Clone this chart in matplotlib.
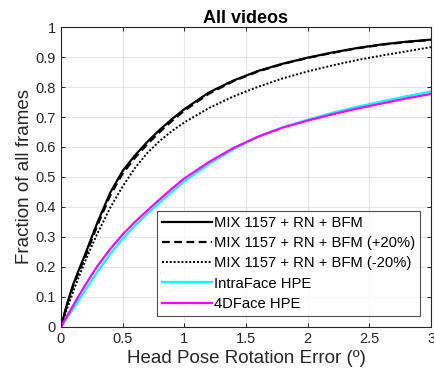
import matplotlib
matplotlib.use("Agg")
import matplotlib.pyplot as plt

plt.rcParams["font.family"] = ["Liberation Sans", "DejaVu Sans"]

# error thresholds (degrees)
err = [0, 0.05, 0.1, 0.15, 0.2, 0.25, 0.3, 0.4, 0.5, 0.6, 0.7, 0.8, 0.9, 1.0,
       1.2, 1.4, 1.6, 1.8, 2.0, 2.2, 2.4, 2.6, 2.8, 3.0]

mix = [0, 0.077, 0.142, 0.195, 0.245, 0.3, 0.352, 0.448, 0.52, 0.572, 0.617,
       0.657, 0.693, 0.726, 0.782, 0.822, 0.854, 0.878, 0.898, 0.915, 0.93,
       0.942, 0.951, 0.958]
mix_plus = [0, 0.074, 0.137, 0.188, 0.237, 0.291, 0.343, 0.439, 0.511, 0.564,
            0.609, 0.65, 0.687, 0.721, 0.778, 0.82, 0.852, 0.877, 0.897,
            0.914, 0.929, 0.941, 0.95, 0.957]
mix_minus = [0, 0.06, 0.118, 0.172, 0.222, 0.27, 0.315, 0.398, 0.468, 0.53,
             0.58, 0.62, 0.653, 0.682, 0.73, 0.769, 0.801, 0.829, 0.852,
             0.872, 0.89, 0.905, 0.919, 0.933]
intraface = [0, 0.03, 0.06, 0.092, 0.124, 0.155, 0.186, 0.243, 0.293, 0.338,
             0.377, 0.414, 0.45, 0.485, 0.543, 0.593, 0.634, 0.666, 0.691,
             0.714, 0.734, 0.752, 0.769, 0.785]
fourdface = [0, 0.036, 0.072, 0.107, 0.141, 0.174, 0.205, 0.26, 0.308, 0.35,
             0.388, 0.425, 0.461, 0.495, 0.55, 0.597, 0.635, 0.665, 0.688,
             0.709, 0.728, 0.745, 0.762, 0.777]

fig = plt.figure(figsize=(4.35, 3.81), dpi=100)
ax = fig.add_axes([0.140, 0.142, 0.851, 0.787])

ax.plot(err, mix, color="black", linewidth=1.6, label="MIX 1157 + RN + BFM")
ax.plot(err, mix_plus, color="black", linewidth=1.6, linestyle=(0, (3.5, 2)),
        label="MIX 1157 + RN + BFM (+20%)")
ax.plot(err, mix_minus, color="black", linewidth=1.4, linestyle=(0, (1, 1)),
        label="MIX 1157 + RN + BFM (-20%)")
ax.plot(err, intraface, color="#00ffff", linewidth=1.6, label="IntraFace HPE")
ax.plot(err, fourdface, color="#ff00ff", linewidth=1.6, label="4DFace HPE")

ax.set_xlim(0, 3)
ax.set_ylim(0, 1)
ax.set_xticks([0, 0.5, 1, 1.5, 2, 2.5, 3])
ax.set_xticklabels(["0", "0.5", "1", "1.5", "2", "2.5", "3"])
ax.set_yticks([i / 10 for i in range(11)])
ax.set_yticklabels(["0", "0.1", "0.2", "0.3", "0.4", "0.5", "0.6", "0.7",
                    "0.8", "0.9", "1"])
ax.grid(True, color="#e6e6e6", linewidth=0.8)
ax.set_axisbelow(True)
ax.tick_params(direction="in", top=True, right=True, length=3,
               labelsize=10.5, colors="#262626", width=0.7)
for sp in ax.spines.values():
    sp.set_color("#262626")
    sp.set_linewidth(0.8)

ax.set_title("All videos", fontsize=13, fontweight="bold", pad=3)
ax.set_xlabel("Head Pose Rotation Error (º)", fontsize=13.5, color="#262626",
              labelpad=3)
ax.set_ylabel("Fraction of all frames", fontsize=13.5, color="#262626",
              labelpad=2)

leg = ax.legend(loc="lower right", fontsize=10.6, frameon=True, fancybox=False,
                edgecolor="#262626", handlelength=3.4, handletextpad=0.1,
                labelspacing=0.42, borderpad=0.35, borderaxespad=0.75)
leg.get_frame().set_linewidth(0.8)

fig.savefig("out.png", dpi=100)
